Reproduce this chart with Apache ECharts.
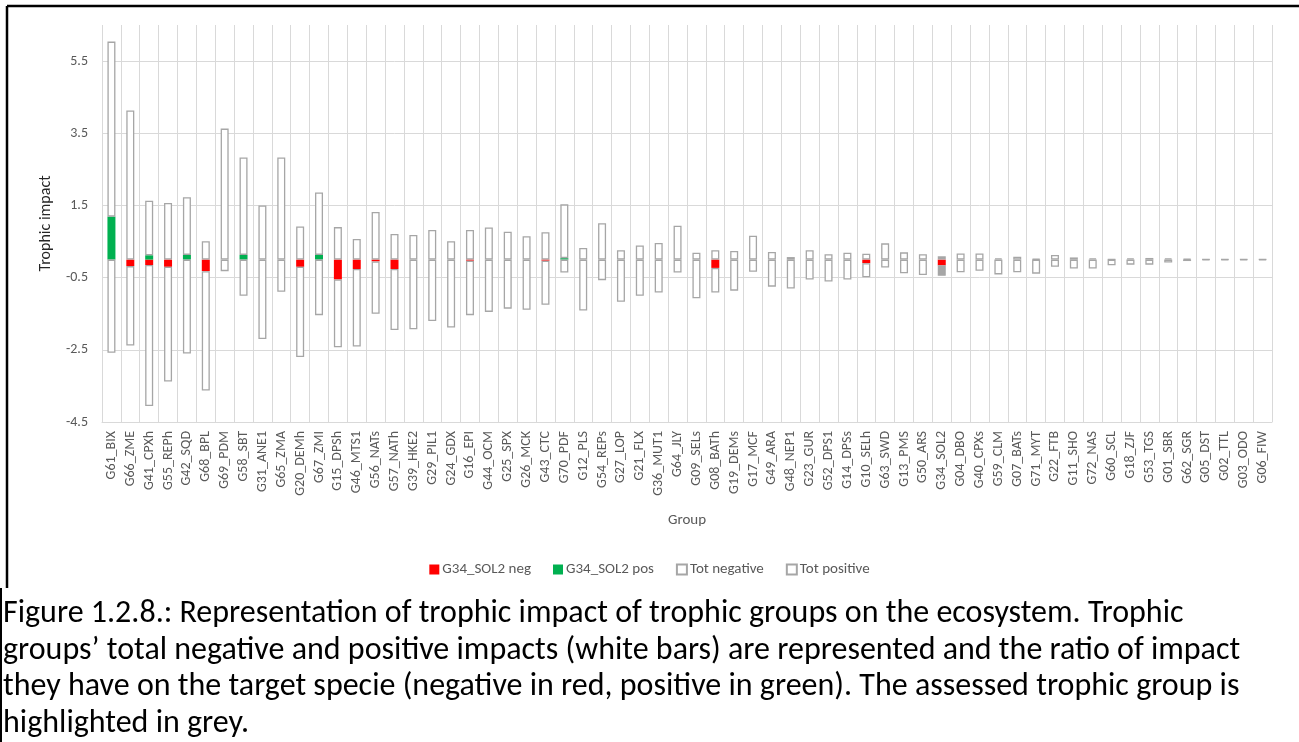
<!DOCTYPE html>
<html>
<head>
<meta charset="utf-8">
<script src="https://cdn.jsdelivr.net/npm/echarts@6/dist/echarts.min.js"></script>
<style>
  html, body { margin: 0; padding: 0; background: #ffffff; }
  #chart { width: 1299px; height: 742px; }
</style>
</head>
<body>
<div id="chart"></div>
<script>
// Trophic groups, ordered by total impact
const groups = [
  'G61_BIX', 'G66_ZME', 'G41_CPXh', 'G55_REPh', 'G42_SQD', 'G68_BPL', 'G69_PDM', 'G58_SBT', 'G31_ANE1', 'G65_ZMA',
  'G20_DEMh', 'G67_ZMI', 'G15_DPSh', 'G46_MTS1', 'G56_NATs', 'G57_NATh', 'G39_HKE2', 'G29_PIL1', 'G24_GDX', 'G16_EPI',
  'G44_OCM', 'G25_SPX', 'G26_MCK', 'G43_CTC', 'G70_PDF', 'G12_PLS', 'G54_REPs', 'G27_LOP', 'G21_FLX', 'G36_MUT1',
  'G64_JLY', 'G09_SELs', 'G08_BATh', 'G19_DEMs', 'G17_MCF', 'G49_ARA', 'G48_NEP1', 'G23_GUR', 'G52_DPS1', 'G14_DPSs',
  'G10_SELh', 'G63_SWD', 'G13_PMS', 'G50_ARS', 'G34_SOL2', 'G04_DBO', 'G40_CPXs', 'G59_CLM', 'G07_BATs', 'G71_MYT',
  'G22_FTB', 'G11_SHO', 'G72_NAS', 'G60_SCL', 'G18_ZJF', 'G53_TGS', 'G01_SBR', 'G62_SGR', 'G05_DST', 'G02_TTL',
  'G03_ODO', 'G06_FIW'
];

// Total positive impact of each group
const totPositive = [
  6.04, 4.13, 1.63, 1.57, 1.73, 0.51, 3.63, 2.83, 1.50, 2.83,
  0.92, 1.86, 0.90, 0.57, 1.32, 0.71, 0.68, 0.82, 0.51, 0.82,
  0.89, 0.77, 0.65, 0.76, 1.53, 0.32, 1.01, 0.26, 0.39, 0.46,
  0.94, 0.19, 0.26, 0.24, 0.66, 0.21, 0.07, 0.26, 0.15, 0.19,
  0.16, 0.45, 0.20, 0.15, 0.09, 0.17, 0.17, 0.035, 0.08, 0.02,
  0.13, 0.06, 0.035, 0.01, 0.035, 0.045, 0.035, 0.02, 0.01, 0.01,
  0.01, 0.01
];

// Total negative impact of each group
const totNegative = [
  -2.58, -2.38, -4.06, -3.38, -2.60, -3.63, -0.32, -1.00, -2.20, -0.89,
  -2.70, -1.54, -2.43, -2.41, -1.50, -1.95, -1.93, -1.70, -1.88, -1.54,
  -1.45, -1.36, -1.39, -1.25, -0.36, -1.41, -0.57, -1.17, -1.00, -0.91,
  -0.36, -1.07, -0.91, -0.86, -0.34, -0.75, -0.80, -0.55, -0.61, -0.55,
  -0.49, -0.22, -0.38, -0.43, -0.45, -0.35, -0.31, -0.41, -0.35, -0.39,
  -0.20, -0.25, -0.25, -0.16, -0.14, -0.14, -0.08, -0.04, -0.02, -0.02,
  -0.02, -0.02
];

// Part of each group's impact that falls on G34_SOL2 (negative)
const solNeg = [
  0, -0.18, -0.15, -0.20, 0, -0.32, 0, 0, 0, 0,
  -0.20, 0, -0.55, -0.26, -0.05, -0.26, 0, 0, 0, -0.03,
  0, 0, 0, -0.03, 0, 0, 0, 0, 0, 0,
  0, 0, -0.23, 0, 0, 0, 0, 0, 0, 0,
  -0.10, 0, 0, 0, -0.16, 0, 0, 0, 0, 0,
  0, 0, 0, 0, 0, 0, 0, 0, 0, 0,
  0, 0
];

// Part of each group's impact that falls on G34_SOL2 (positive)
const solPos = [
  1.19, 0, 0.12, 0, 0.13, 0, 0, 0.13, 0, 0,
  0, 0.13, 0, 0, 0, 0, 0, 0, 0, 0,
  0, 0, 0, 0, 0.04, 0, 0, 0, 0, 0,
  0, 0, 0, 0, 0, 0, 0, 0, 0, 0,
  0, 0, 0, 0, 0, 0, 0, 0, 0, 0,
  0, 0, 0, 0, 0, 0, 0, 0, 0, 0,
  0, 0
];

const yTicks = [-4.5, -2.5, -0.5, 1.5, 3.5, 5.5];
const assessedGroup = 'G34_SOL2';

const captionLines = [
  'Figure 1.2.8.: Representation of trophic impact of trophic groups on the ecosystem. Trophic',
  'groups\u2019 total negative and positive impacts (white bars) are represented and the ratio of impact',
  'they have on the target specie (negative in red, positive in green). The assessed trophic group is',
  'highlighted in grey.'
];

const FONT = 'Carlito, Calibri, Lato, sans-serif';
const TEXT_GREY = '#595959';
const GRID_GREY = '#d9d9d9';
const BOX_GREY = '#a6a6a6';

const round = v => Math.round(v * 1000) / 1000;
// white boxes hold what is left of the totals once the G34_SOL2 share is stacked first
const restNegative = totNegative.map((v, i) => round(v - solNeg[i]));
const restPositive = totPositive.map((v, i) => round(v - solPos[i]));

const highlight = (values) => values.map((v, i) =>
  groups[i] === assessedGroup ? { value: v, itemStyle: { color: BOX_GREY } } : v);

const boxStyle = { color: '#ffffff', borderColor: BOX_GREY, borderWidth: 1.3 };

const chart = echarts.init(document.getElementById('chart'), null, { renderer: 'canvas' });

const captionGraphics = captionLines.map((line, i) => ({
  type: 'text',
  x: 3,
  y: 614 + i * 36.7,
  silent: true,
  style: { text: line, fontSize: 32, fontFamily: FONT, fill: '#000000', verticalAlign: 'middle' }
}));

chart.setOption({
  animation: false,
  backgroundColor: '#ffffff',
  textStyle: { fontFamily: FONT },
  grid: { left: 102, right: 27, top: 25, bottom: 320, containLabel: false },
  legend: {
    top: 557,
    left: 'center',
    itemWidth: 10,
    itemHeight: 10,
    itemGap: 22,
    icon: 'rect',
    textStyle: { fontSize: 15, color: TEXT_GREY, fontFamily: FONT, padding: [0, 0, 0, -2] },
    data: ['G34_SOL2 neg', 'G34_SOL2 pos', 'Tot negative', 'Tot positive']
  },
  xAxis: {
    type: 'category',
    data: groups,
    boundaryGap: true,
    name: 'Group',
    nameLocation: 'middle',
    nameGap: 91,
    nameTextStyle: { fontSize: 15, color: TEXT_GREY, fontFamily: FONT },
    axisLine: { onZero: false, lineStyle: { color: GRID_GREY, width: 1 } },
    axisTick: { show: false },
    axisLabel: { interval: 0, rotate: 90, fontSize: 14, color: TEXT_GREY, fontFamily: FONT, margin: 9 },
    splitLine: { show: true, lineStyle: { color: GRID_GREY, width: 1 } }
  },
  yAxis: {
    type: 'value',
    min: -4.5,
    max: 6.5,
    name: 'Trophic impact',
    nameLocation: 'middle',
    nameRotate: 90,
    nameGap: 48,
    nameTextStyle: { fontSize: 16, color: '#262626', fontFamily: FONT },
    axisLine: { show: false },
    axisTick: { show: false, customValues: yTicks },
    axisLabel: { customValues: yTicks, fontSize: 14, color: TEXT_GREY, fontFamily: FONT, margin: 14 },
    splitLine: { show: true, lineStyle: { color: GRID_GREY, width: 1 } }
  },
  series: [
    {
      name: 'G34_SOL2 neg', type: 'bar', stack: 'impact', barWidth: 8,
      itemStyle: { color: '#ff0000' }, data: solNeg
    },
    {
      name: 'G34_SOL2 pos', type: 'bar', stack: 'impact', barWidth: 8,
      itemStyle: { color: '#00b050' }, data: solPos
    },
    {
      name: 'Tot negative', type: 'bar', stack: 'impact', barWidth: 8,
      itemStyle: boxStyle, data: highlight(restNegative)
    },
    {
      name: 'Tot positive', type: 'bar', stack: 'impact', barWidth: 8,
      itemStyle: boxStyle, data: highlight(restPositive)
    }
  ],
  graphic: [
    // frame round the chart area and the caption
    { type: 'line', silent: true, shape: { x1: 7, y1: 6, x2: 1299, y2: 6 }, style: { stroke: '#000', lineWidth: 2.5 } },
    { type: 'line', silent: true, shape: { x1: 7, y1: 6, x2: 7, y2: 588 }, style: { stroke: '#000', lineWidth: 2.5 } },
    { type: 'line', silent: true, shape: { x1: 1, y1: 588, x2: 1, y2: 742 }, style: { stroke: '#000', lineWidth: 2 } }
  ].concat(captionGraphics)
});
</script>
</body>
</html>
